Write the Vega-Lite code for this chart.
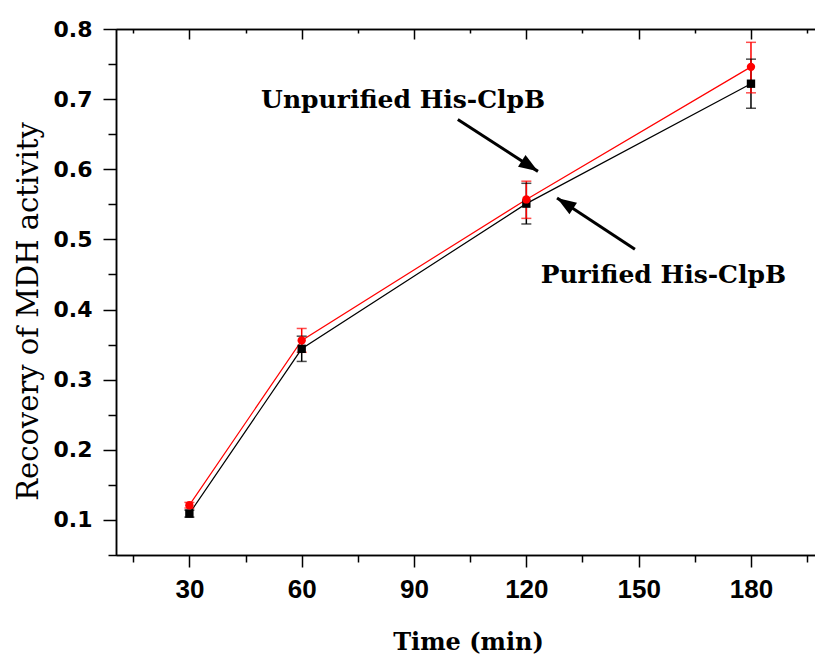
{
  "$schema": "https://vega.github.io/schema/vega-lite/v6.json",
  "width": 699,
  "height": 526,
  "autosize": {"type": "none"},
  "padding": {"left": 116, "top": 29, "right": 0, "bottom": 100},
  "background": "white",
  "config": {
    "view": {"stroke": null},
    "axis": {
      "grid": false,
      "domainColor": "black",
      "domainWidth": 1.5,
      "tickColor": "black",
      "tickWidth": 1.5,
      "labelColor": "black",
      "titleColor": "black",
      "labelOverlap": false,
      "labelFlush": false
    }
  },
  "datasets": {
    "recovery": [
      {"time": 30, "series": "Purified", "value": 0.109, "lo": 0.104, "hi": 0.114},
      {"time": 60, "series": "Purified", "value": 0.344, "lo": 0.326, "hi": 0.362},
      {"time": 120, "series": "Purified", "value": 0.551, "lo": 0.522, "hi": 0.580},
      {"time": 180, "series": "Purified", "value": 0.722, "lo": 0.687, "hi": 0.757},
      {"time": 30, "series": "Unpurified", "value": 0.121, "lo": 0.117, "hi": 0.125},
      {"time": 60, "series": "Unpurified", "value": 0.356, "lo": 0.339, "hi": 0.373},
      {"time": 120, "series": "Unpurified", "value": 0.557, "lo": 0.530, "hi": 0.583},
      {"time": 180, "series": "Unpurified", "value": 0.746, "lo": 0.709, "hi": 0.781}
    ],
    "notes": [
      {"label": "Unpurified His-ClpB", "time": 87.1, "value": 0.699},
      {"label": "Purified His-ClpB", "time": 156.6, "value": 0.449}
    ],
    "arrows": [
      {"name": "Unpurified", "time": 101.7, "value": 0.671, "tipTime": 123.1, "tipValue": 0.597},
      {"name": "Purified", "time": 149.0, "value": 0.486, "tipTime": 128.2, "tipValue": 0.559}
    ]
  },
  "resolve": {"axis": {"x": "independent", "y": "independent"}},
  "layer": [
    {
      "data": {"name": "recovery"},
      "mark": {"type": "line", "strokeWidth": 1.2},
      "encoding": {
        "x": {
          "field": "time", "type": "quantitative",
          "scale": {"domain": [10.4, 197.1], "nice": false, "zero": false},
          "axis": {
            "orient": "bottom",
            "values": [30, 60, 90, 120, 150, 180],
            "tickSize": 12,
            "labelFont": "Liberation Sans",
            "labelFontWeight": "bold",
            "labelFontSize": 26,
            "labelBaseline": "alphabetic",
            "labelPadding": 30,
            "title": "Time (min)",
            "titleFont": "DejaVu Serif",
            "titleFontWeight": "bold",
            "titleFontSize": 24,
            "titleBaseline": "alphabetic",
            "titleX": 352,
            "titleY": 94
          }
        },
        "y": {
          "field": "value", "type": "quantitative",
          "scale": {"domain": [0.05, 0.8], "nice": false, "zero": false},
          "axis": {
            "orient": "left",
            "values": [0.1, 0.2, 0.3, 0.4, 0.5, 0.6, 0.7, 0.8],
            "format": ".1f",
            "tickSize": 13,
            "labelFont": "DejaVu Sans",
            "labelFontWeight": "bold",
            "labelFontSize": 22,
            "labelPadding": 11,
            "title": "Recovery of MDH activity",
            "titleFont": "DejaVu Serif",
            "titleFontWeight": "normal",
            "titleFontSize": 29,
            "titleBaseline": "alphabetic",
            "titleX": -79,
            "titleY": 282
          }
        },
        "color": {
          "field": "series", "type": "nominal",
          "scale": {"domain": ["Purified", "Unpurified"], "range": ["black", "red"]},
          "legend": null
        }
      }
    },
    {
      "data": {"name": "recovery"},
      "mark": {"type": "rule", "strokeWidth": 1.5},
      "encoding": {
        "x": {
          "field": "time", "type": "quantitative",
          "scale": {"domain": [10.4, 197.1], "nice": false, "zero": false},
          "axis": {
            "orient": "bottom",
            "values": [15, 45, 75, 105, 135, 165, 195],
            "tickSize": 7,
            "labels": false,
            "title": null
          }
        },
        "y": {
          "field": "lo", "type": "quantitative",
          "scale": {"domain": [0.05, 0.8], "nice": false, "zero": false},
          "axis": {
            "orient": "left",
            "values": [0.05, 0.15, 0.25, 0.35, 0.45, 0.55, 0.65, 0.75],
            "tickSize": 8,
            "labels": false,
            "title": null
          }
        },
        "y2": {"field": "hi"},
        "color": {"field": "series", "type": "nominal", "scale": {"domain": ["Purified", "Unpurified"], "range": ["black", "red"]}, "legend": null}
      }
    },
    {
      "data": {"name": "recovery"},
      "mark": {"type": "tick", "orient": "horizontal", "size": 10, "thickness": 1.5},
      "encoding": {
        "x": {
          "field": "time", "type": "quantitative",
          "scale": {"domain": [10.4, 197.1], "nice": false, "zero": false},
          "axis": {
            "orient": "top",
            "values": [30, 60, 90, 120, 150, 180],
            "tickSize": -10,
            "labels": false,
            "title": null
          }
        },
        "y": {"field": "lo", "type": "quantitative", "scale": {"domain": [0.05, 0.8], "nice": false, "zero": false}, "axis": null},
        "color": {"field": "series", "type": "nominal", "scale": {"domain": ["Purified", "Unpurified"], "range": ["black", "red"]}, "legend": null}
      }
    },
    {
      "data": {"name": "recovery"},
      "mark": {"type": "tick", "orient": "horizontal", "size": 10, "thickness": 1.5},
      "encoding": {
        "x": {
          "field": "time", "type": "quantitative",
          "scale": {"domain": [10.4, 197.1], "nice": false, "zero": false},
          "axis": {
            "orient": "top",
            "values": [15, 45, 75, 105, 135, 165, 195],
            "tickSize": -4,
            "labels": false,
            "title": null
          }
        },
        "y": {"field": "hi", "type": "quantitative", "scale": {"domain": [0.05, 0.8], "nice": false, "zero": false}, "axis": null},
        "color": {"field": "series", "type": "nominal", "scale": {"domain": ["Purified", "Unpurified"], "range": ["black", "red"]}, "legend": null}
      }
    },
    {
      "data": {"name": "recovery"},
      "mark": {"type": "point", "filled": true, "opacity": 1, "size": 70},
      "encoding": {
        "x": {"field": "time", "type": "quantitative", "scale": {"domain": [10.4, 197.1], "nice": false, "zero": false}, "axis": null},
        "y": {"field": "value", "type": "quantitative", "scale": {"domain": [0.05, 0.8], "nice": false, "zero": false}, "axis": null},
        "color": {"field": "series", "type": "nominal", "scale": {"domain": ["Purified", "Unpurified"], "range": ["black", "red"]}, "legend": null},
        "shape": {"field": "series", "type": "nominal", "scale": {"domain": ["Purified", "Unpurified"], "range": ["square", "circle"]}, "legend": null}
      }
    },
    {
      "data": {"name": "notes"},
      "mark": {"type": "text", "font": "DejaVu Serif", "fontWeight": "bold", "fontSize": 25, "color": "black", "align": "center", "baseline": "middle"},
      "encoding": {
        "x": {"field": "time", "type": "quantitative", "scale": {"domain": [10.4, 197.1], "nice": false, "zero": false}, "axis": null},
        "y": {"field": "value", "type": "quantitative", "scale": {"domain": [0.05, 0.8], "nice": false, "zero": false}, "axis": null},
        "text": {"field": "label"}
      }
    },
    {
      "data": {"name": "arrows"},
      "mark": {"type": "rule", "strokeWidth": 3, "color": "black"},
      "encoding": {
        "x": {"field": "time", "type": "quantitative", "scale": {"domain": [10.4, 197.1], "nice": false, "zero": false}, "axis": null},
        "y": {"field": "value", "type": "quantitative", "scale": {"domain": [0.05, 0.8], "nice": false, "zero": false}, "axis": null},
        "x2": {"field": "tipTime"},
        "y2": {"field": "tipValue"}
      }
    },
    {
      "data": {"name": "arrows"},
      "transform": [{"filter": "datum.name === 'Unpurified'"}],
      "mark": {"type": "point", "shape": "M0,0 L-1,2.8 L1,2.8 Z", "filled": true, "opacity": 1, "color": "black", "size": 190, "angle": 123},
      "encoding": {
        "x": {"field": "tipTime", "type": "quantitative", "scale": {"domain": [10.4, 197.1], "nice": false, "zero": false}, "axis": null},
        "y": {"field": "tipValue", "type": "quantitative", "scale": {"domain": [0.05, 0.8], "nice": false, "zero": false}, "axis": null}
      }
    },
    {
      "data": {"name": "arrows"},
      "transform": [{"filter": "datum.name === 'Purified'"}],
      "mark": {"type": "point", "shape": "M0,0 L-1,2.8 L1,2.8 Z", "filled": true, "opacity": 1, "color": "black", "size": 190, "angle": 303},
      "encoding": {
        "x": {"field": "tipTime", "type": "quantitative", "scale": {"domain": [10.4, 197.1], "nice": false, "zero": false}, "axis": null},
        "y": {"field": "tipValue", "type": "quantitative", "scale": {"domain": [0.05, 0.8], "nice": false, "zero": false}, "axis": null}
      }
    }
  ]
}
